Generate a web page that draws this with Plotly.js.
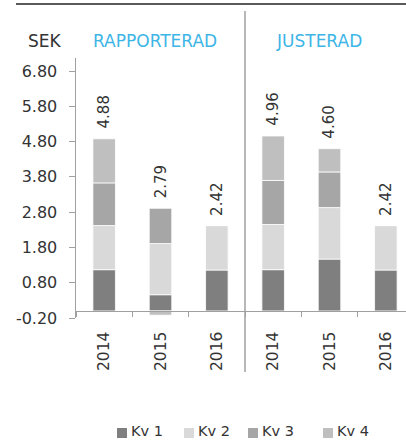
<!DOCTYPE html>
<html>
<head>
<meta charset="utf-8">
<script src="https://cdn.plot.ly/plotly-3.0.1.min.js"></script>
<style>
html,body{margin:0;padding:0;background:#fff;overflow:hidden;}
#chart{width:414px;height:441px;}
</style>
</head>
<body>
<div id="chart"></div>
<script>
// ---- data ----
var groups = ["RAPPORTERAD", "RAPPORTERAD", "RAPPORTERAD", "JUSTERAD", "JUSTERAD", "JUSTERAD"];
var years = ["2014", "2015", "2016", "2014", "2015", "2016"];
var seriesNames = ["Kv 1", "Kv 2", "Kv 3", "Kv 4"];
var kv1 = [1.17, 0.46, 1.16, 1.17, 1.47, 1.16];
var kv2 = [1.25, 1.45, 1.26, 1.28, 1.46, 1.26];
var kv3 = [1.21, 1.00, 0, 1.25, 1.01, 0];
var kv4 = [1.25, -0.12, 0, 1.26, 0.66, 0];
var totals = [4.88, 2.79, 2.42, 4.96, 4.60, 2.42];
var colors = ["#7f7f7f", "#d9d9d9", "#a6a6a6", "#bfbfbf"];
var yTicks = [-0.2, 0.8, 1.8, 2.8, 3.8, 4.8, 5.8, 6.8];

// unique category keys (labels repeat across the two groups)
var keys = years.map(function (y, i) { return groups[i] + " " + y; });
var series = [kv1, kv2, kv3, kv4];

var FONT = "DejaVu Sans";
var TXT = "#333333";
var PL = 76, PW = 338, PT = 58, PH = 260;   // plot area in px
function px(x) { return (x - PL) / PW; }
function py(y) { return (PT + PH - y) / PH; }

var traces = series.map(function (vals, s) {
  return {
    type: "bar",
    name: seriesNames[s],
    x: keys,
    y: vals,
    width: 0.4,
    marker: {color: colors[s], line: {color: "#ffffff", width: 0.8}},
    hoverinfo: "x+y+name",
    showlegend: false
  };
});

// positive stack top for label placement
var posTop = keys.map(function (k, i) {
  var t = 0;
  series.forEach(function (v) { if (v[i] > 0) t += v[i]; });
  return t;
});

var annotations = keys.map(function (k, i) {
  return {
    x: k, y: posTop[i], xref: "x", yref: "y",
    text: totals[i].toFixed(2),
    textangle: -90, showarrow: false,
    yanchor: "bottom", xanchor: "center", yshift: 8,
    font: {family: FONT, size: 15, color: TXT}
  };
});

annotations.push(
  {xref: "paper", yref: "paper", x: px(45), y: py(41), text: "SEK",
   showarrow: false, xanchor: "center", yanchor: "middle", font: {family: FONT, size: 17, color: TXT}},
  {xref: "paper", yref: "paper", x: px(155), y: py(41), text: groups[0],
   showarrow: false, xanchor: "center", yanchor: "middle", font: {family: FONT, size: 17, color: "#3db5e6"}},
  {xref: "paper", yref: "paper", x: px(319), y: py(41), text: groups[3],
   showarrow: false, xanchor: "center", yanchor: "middle", font: {family: FONT, size: 17, color: "#3db5e6"}}
);

var shapes = [
  {type: "line", xref: "x", yref: "paper", x0: 2.5, x1: 2.5, y0: py(372), y1: py(11),
   line: {color: "#a0a0a0", width: 1.5}},
  {type: "line", xref: "paper", yref: "paper", x0: px(16), x1: 1.05, y0: py(4), y1: py(4),
   line: {color: "#595959", width: 2}}
];

// legend (squares + labels), laid out below the chart
var legendLeft = [117, 184, 248, 323];
seriesNames.forEach(function (name, s) {
  var x0 = legendLeft[s];
  shapes.push({type: "rect", xref: "paper", yref: "paper",
    x0: px(x0), x1: px(x0 + 10), y0: py(438), y1: py(428),
    fillcolor: colors[s], line: {width: 0}});
  annotations.push({xref: "paper", yref: "paper", x: px(x0 + 13), y: py(439.5), text: name,
    showarrow: false, xanchor: "left", yanchor: "bottom", borderpad: 0,
    font: {family: FONT, size: 14.5, color: TXT}});
});

var layout = {
  width: 414, height: 441,
  margin: {l: PL, r: 414 - PL - PW, t: PT, b: 441 - PT - PH, autoexpand: false},
  paper_bgcolor: "#ffffff", plot_bgcolor: "#ffffff",
  barmode: "relative",
  showlegend: false,
  xaxis: {
    type: "category",
    tickmode: "array", tickvals: keys, ticktext: years,
    tickson: "boundaries", ticks: "outside", ticklen: 5, tickcolor: "#a0a0a0", tickwidth: 1,
    tickangle: -90, ticklabelstandoff: 13,
    showline: true, linecolor: "#a0a0a0", linewidth: 1.5,
    anchor: "free", position: 0.2 / 7.37,
    showgrid: false, zeroline: false,
    tickfont: {family: FONT, size: 15.5, color: TXT}
  },
  yaxis: {
    range: [-0.2, 7.17],
    tickmode: "array", tickvals: yTicks, ticktext: yTicks.map(function (v) { return v.toFixed(2); }),
    ticks: "outside", ticklen: 6, tickcolor: "#a0a0a0", tickwidth: 1,
    ticklabelstandoff: 8,
    showline: true, linecolor: "#a0a0a0", linewidth: 1.5,
    showgrid: false, zeroline: false,
    tickfont: {family: FONT, size: 16, color: TXT}
  },
  annotations: annotations,
  shapes: shapes
};

Plotly.newPlot("chart", traces, layout, {displayModeBar: false, staticPlot: true});
</script>
</body>
</html>
